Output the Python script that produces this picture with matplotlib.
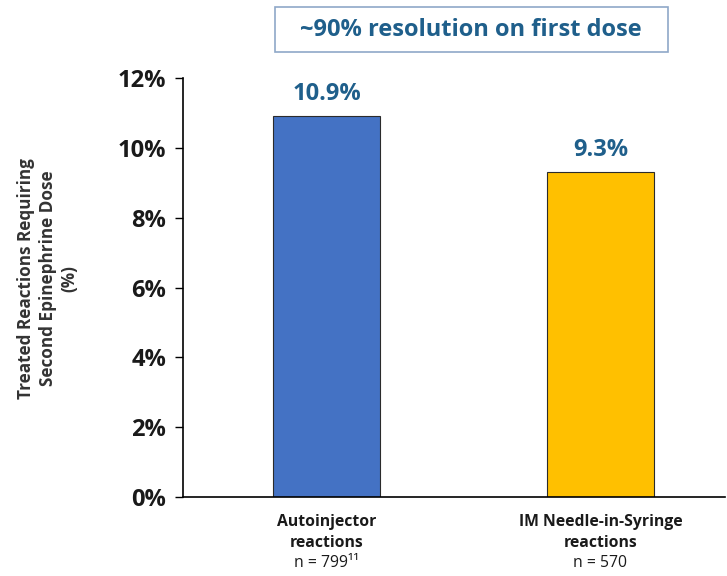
import matplotlib.pyplot as plt
from matplotlib.patches import FancyBboxPatch

plt.rcParams['font.family'] = ['Open Sans', 'DejaVu Sans']

groups = ["Autoinjector\nreactions", "IM Needle-in-Syringe\nreactions"]
n_labels = ["n = 799¹¹", "n = 570"]
values = [10.9, 9.3]
colors = ["#4472C4", "#FFC000"]
yticks = [0, 2, 4, 6, 8, 10, 12]

fig = plt.figure(figsize=(7.27, 5.76), dpi=100)
ax = fig.add_axes([0.2517, 0.137, 0.7453, 0.7276])

x = list(range(len(values)))
ax.bar(x, values, width=0.39, color=colors, edgecolor="#2b2b2b", linewidth=0.8, zorder=2)
for xi, v in zip(x, values):
    ax.text(xi, v + 0.3, "%.1f%%" % v, ha="center", va="bottom",
            fontsize=17, fontweight="bold", color="#1f5f8b")

ax.set_xlim(-0.524, 1.454)
ax.set_ylim(0, 12)
ax.set_yticks(yticks)
ax.set_yticklabels(["%d%%" % t for t in yticks], fontsize=17, fontweight="bold", color="#1a1a1a")
ax.set_xticks(x)
ax.set_xticklabels(groups, fontsize=11.3, fontweight="bold", color="#1a1a1a", linespacing=1.45)
ax.tick_params(axis="x", length=0, pad=12)
ax.tick_params(axis="y", length=6, width=1, direction="out", pad=6)
for xi, lab in zip(x, n_labels):
    ax.text(xi, -1.89, lab, ha="center", va="center", fontsize=11.3, color="#1a1a1a")

for s in ["top", "right"]:
    ax.spines[s].set_visible(False)
ax.spines["left"].set_linewidth(1.2)
ax.spines["bottom"].set_linewidth(1.2)

fig.text(0.066, 0.517, "Treated Reactions Requiring\nSecond Epinephrine Dose\n(%)",
         rotation=90, ha="center", va="center", fontsize=12.3, fontweight="bold",
         color="#333333", linespacing=1.25)

box = FancyBboxPatch((275 / 727, 1 - 52 / 576), 393 / 727, 45 / 576,
                     boxstyle="square,pad=0", transform=fig.transFigure,
                     facecolor="white", edgecolor="#8fa8c8", linewidth=1.2)
fig.patches.append(box)
fig.text(471 / 727, 1 - 30 / 576, "~90% resolution on first dose", ha="center", va="center",
         fontsize=17, fontweight="bold", color="#1f5f8b")

fig.savefig("out.png", dpi=100)
